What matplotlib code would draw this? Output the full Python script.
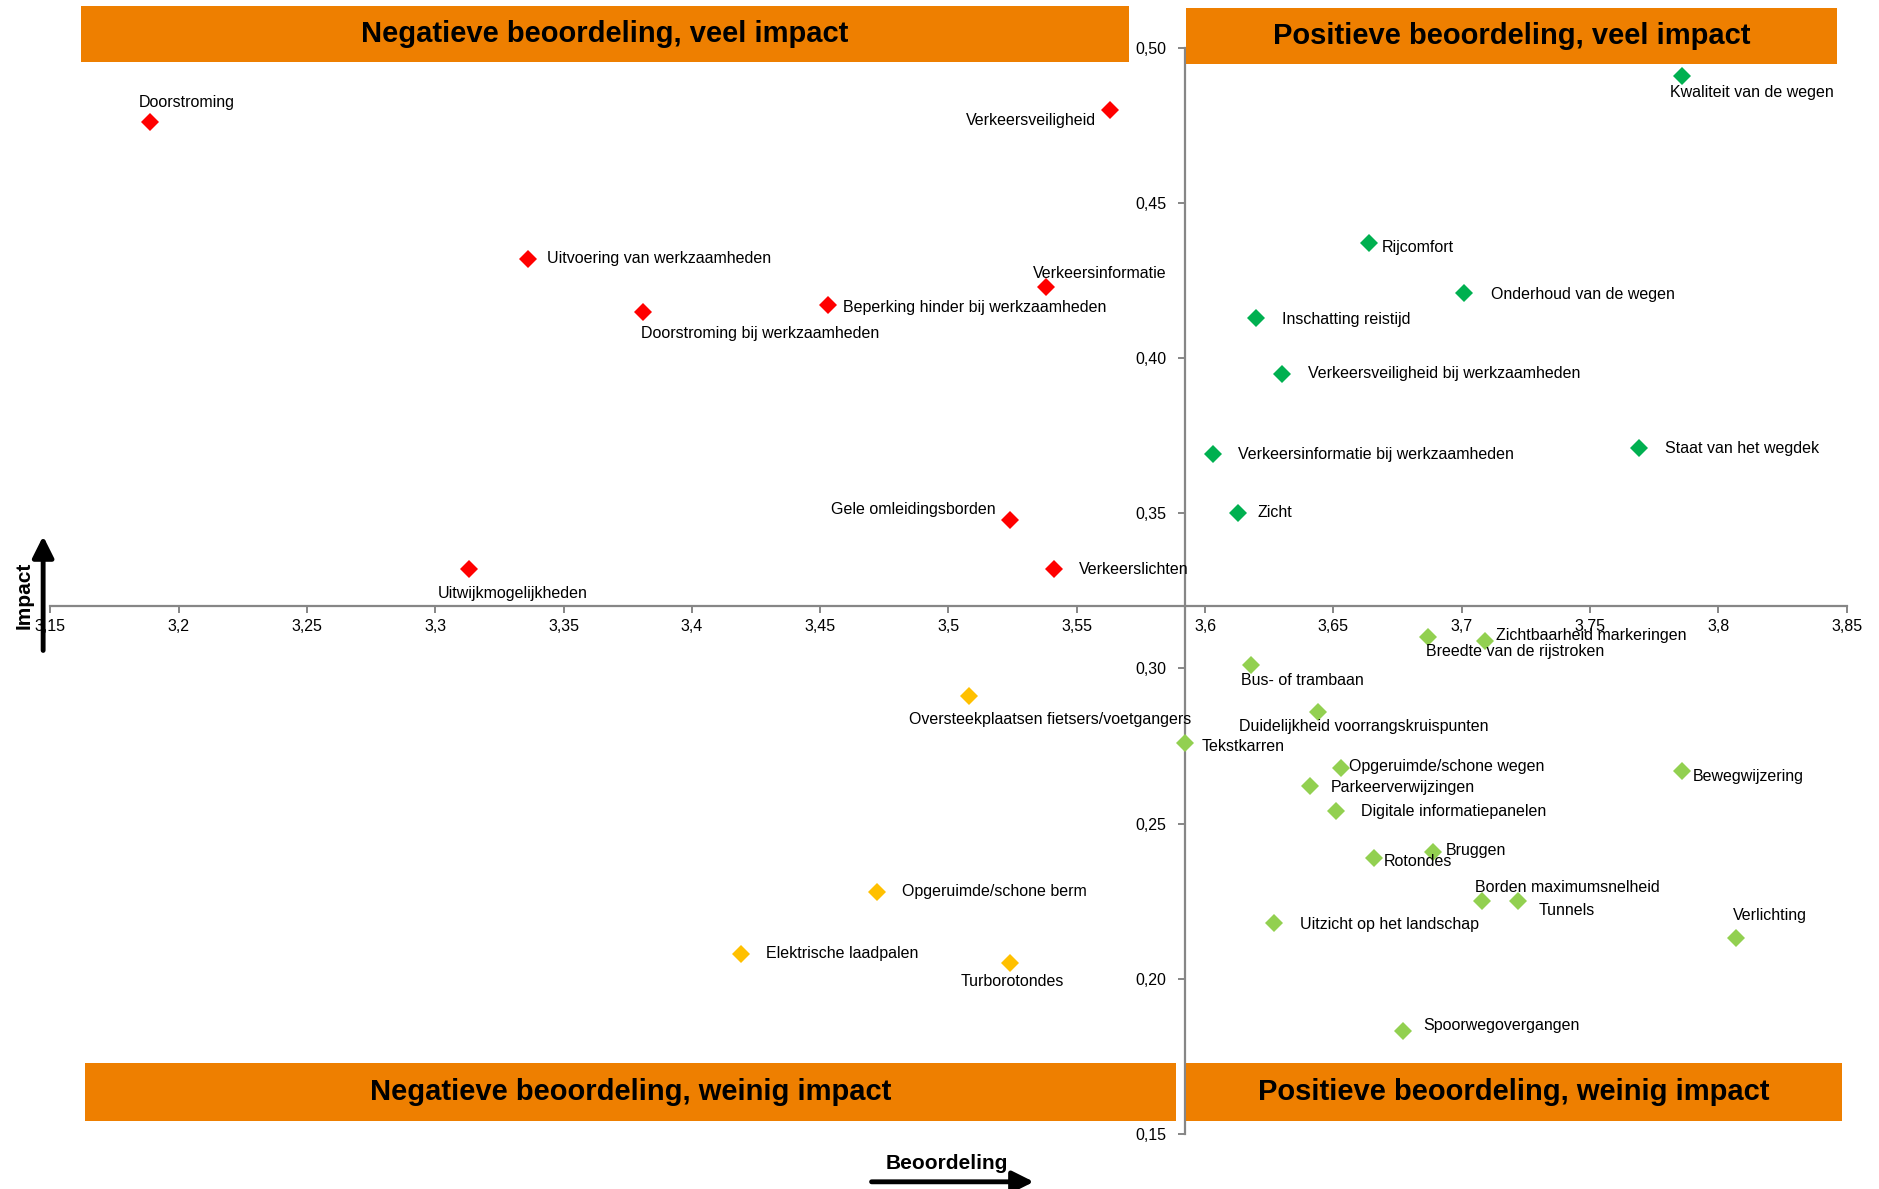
import matplotlib
matplotlib.use("Agg")
import matplotlib.pyplot as plt
from matplotlib.patches import Rectangle, FancyArrowPatch
from matplotlib.ticker import FuncFormatter

# ---- data: beoordeling (x) vs impact (y) ----
red_names = ["Doorstroming", "Verkeersveiligheid", "Uitvoering van werkzaamheden",
             "Verkeersinformatie", "Beperking hinder bij werkzaamheden",
             "Doorstroming bij werkzaamheden", "Gele omleidingsborden",
             "Uitwijkmogelijkheden", "Verkeerslichten"]
red_x = [3.189, 3.563, 3.336, 3.538, 3.453, 3.381, 3.524, 3.313, 3.541]
red_y = [0.476, 0.480, 0.432, 0.423, 0.417, 0.415, 0.348, 0.332, 0.332]

yellow_names = ["Oversteekplaatsen fietsers/voetgangers", "Opgeruimde/schone berm",
                "Elektrische laadpalen", "Turborotondes"]
yellow_x = [3.508, 3.472, 3.419, 3.524]
yellow_y = [0.291, 0.228, 0.208, 0.205]

dgreen_names = ["Kwaliteit van de wegen", "Rijcomfort", "Onderhoud van de wegen",
                "Inschatting reistijd", "Verkeersveiligheid bij werkzaamheden",
                "Staat van het wegdek", "Verkeersinformatie bij werkzaamheden", "Zicht"]
dgreen_x = [3.786, 3.664, 3.701, 3.620, 3.630, 3.769, 3.603, 3.613]
dgreen_y = [0.491, 0.437, 0.421, 0.413, 0.395, 0.371, 0.369, 0.350]

lgreen_names = ["Zichtbaarheid markeringen", "Breedte van de rijstroken", "Bus- of trambaan",
                "Duidelijkheid voorrangskruispunten", "Tekstkarren",
                "Opgeruimde/schone wegen", "Bewegwijzering", "Parkeerverwijzingen",
                "Digitale informatiepanelen", "Bruggen", "Rotondes",
                "Borden maximumsnelheid", "Tunnels", "Uitzicht op het landschap",
                "Verlichting", "Spoorwegovergangen"]
lgreen_x = [3.709, 3.687, 3.618, 3.644, 3.592, 3.653, 3.786, 3.641,
            3.651, 3.689, 3.666, 3.708, 3.722, 3.627, 3.807, 3.677]
lgreen_y = [0.309, 0.310, 0.301, 0.286, 0.276, 0.268, 0.267, 0.262,
            0.254, 0.241, 0.239, 0.225, 0.225, 0.218, 0.213, 0.183]

x_ticks = [3.15, 3.2, 3.25, 3.3, 3.35, 3.4, 3.45, 3.5, 3.55, 3.6, 3.65, 3.7, 3.75, 3.8, 3.85]
y_ticks = [0.15, 0.20, 0.25, 0.30, 0.35, 0.40, 0.45, 0.50]
x_cross = 3.592   # where the impact axis crosses
y_cross = 0.32    # where the beoordeling axis crosses

quadrant_titles = ["Negatieve beoordeling, veel impact", "Positieve beoordeling, veel impact",
                   "Negatieve beoordeling, weinig impact", "Positieve beoordeling, weinig impact"]

# ---- layout (label offsets in reference pixels: dx, dy(up), ha) ----
label_pos = {
    "Doorstroming": (-10, 17, "left"),
    "Verkeersveiligheid": (-12, -9, "right"),
    "Uitvoering van werkzaamheden": (16, 0, "left"),
    "Verkeersinformatie": (-11, 11, "left"),
    "Beperking hinder bij werkzaamheden": (13, -2, "left"),
    "Doorstroming bij werkzaamheden": (-2, -18, "left"),
    "Gele omleidingsborden": (-12, 8, "right"),
    "Uitwijkmogelijkheden": (-26, -20, "left"),
    "Verkeerslichten": (21, 0, "left"),
    "Oversteekplaatsen fietsers/voetgangers": (-50, -19, "left"),
    "Opgeruimde/schone berm": (21, 0, "left"),
    "Elektrische laadpalen": (21, 0, "left"),
    "Turborotondes": (-41, -15, "left"),
    "Kwaliteit van de wegen": (-10, -14, "left"),
    "Rijcomfort": (10, -3, "left"),
    "Onderhoud van de wegen": (22, -1, "left"),
    "Inschatting reistijd": (21, -1, "left"),
    "Verkeersveiligheid bij werkzaamheden": (22, 0, "left"),
    "Staat van het wegdek": (22, 0, "left"),
    "Verkeersinformatie bij werkzaamheden": (21, 0, "left"),
    "Zicht": (16, 1, "left"),
    "Zichtbaarheid markeringen": (9, 4, "left"),
    "Breedte van de rijstroken": (-2, -12, "left"),
    "Bus- of trambaan": (-9, -13, "left"),
    "Duidelijkheid voorrangskruispunten": (-66, -12, "left"),
    "Tekstkarren": (14, -3, "left"),
    "Opgeruimde/schone wegen": (7, 1, "left"),
    "Bewegwijzering": (9, -5, "left"),
    "Parkeerverwijzingen": (17, -1, "left"),
    "Digitale informatiepanelen": (21, 0, "left"),
    "Bruggen": (10, 1, "left"),
    "Rotondes": (8, -3, "left"),
    "Borden maximumsnelheid": (-6, 11, "left"),
    "Tunnels": (17, -8, "left"),
    "Uitzicht op het landschap": (21, -1, "left"),
    "Verlichting": (-3, 19, "left"),
    "Spoorwegovergangen": (17, 5, "left"),
}

W, H = 1568.0, 992.0          # reference frame used for layout
PT = 1879.0 / W * 0.72        # reference px -> points
NARROW = ["Liberation Sans Narrow", "Liberation Sans", "DejaVu Sans"]
BOLD = ["Liberation Sans", "DejaVu Sans"]
ORANGE = "#EE7F00"
AXIS_GREY = "#868686"

fig = plt.figure(figsize=(18.79, 11.89), dpi=100)
ax = fig.add_axes([42 / W, 1 - 946 / H, (1541 - 42) / W, (946 - 40) / H])
ax.set_xlim(3.15, 3.85)
ax.set_ylim(0.15, 0.50)

# axes crossing in the middle
for s in ["top", "right"]:
    ax.spines[s].set_visible(False)
ax.spines["left"].set_position(("data", x_cross))
ax.spines["bottom"].set_position(("data", y_cross))
for s in ["left", "bottom"]:
    ax.spines[s].set_color(AXIS_GREY)
    ax.spines[s].set_linewidth(1.6)
ax.set_xticks(x_ticks)
ax.set_yticks(y_ticks)
ax.xaxis.set_major_formatter(FuncFormatter(lambda v, p: f"{v:g}".replace(".", ",")))
ax.yaxis.set_major_formatter(FuncFormatter(lambda v, p: f"{v:.2f}".replace(".", ",")))
ax.tick_params(colors=AXIS_GREY, length=5, width=1.4, labelcolor="black", labelsize=11.5)
ax.tick_params(axis="x", pad=4)
ax.tick_params(axis="y", pad=8)
for lbl in ax.get_xticklabels() + ax.get_yticklabels():
    lbl.set_family(NARROW)
ax.patch.set_visible(False)

groups = [
    (red_names, red_x, red_y, "#FF0000"),
    (yellow_names, yellow_x, yellow_y, "#FFC000"),
    (dgreen_names, dgreen_x, dgreen_y, "#00B050"),
    (lgreen_names, lgreen_x, lgreen_y, "#92D050"),
]
for names, xs, ys, col in groups:
    ax.plot(xs, ys, linestyle="none", marker="D", markersize=9, color=col,
            markeredgewidth=0, zorder=3, clip_on=False)
    for n, x, y in zip(names, xs, ys):
        dx, dy, ha = label_pos[n]
        ax.annotate(n, (x, y), xytext=(dx * PT, dy * PT), textcoords="offset points",
                    ha=ha, va="center", fontsize=11.5, family=NARROW, zorder=4)

# orange quadrant banners (reference pixel boxes)
boxes = [(68, 5, 942, 52), (990, 7, 1533, 53), (71, 887, 981, 935), (990, 887, 1537, 935)]
for (x0, y0, x1, y1), title in zip(boxes, quadrant_titles):
    fig.patches.append(Rectangle((x0 / W, 1 - y1 / H), (x1 - x0) / W, (y1 - y0) / H,
                                 transform=fig.transFigure, facecolor=ORANGE,
                                 edgecolor="none", zorder=5))
    fig.text((x0 + x1) / 2 / W, 1 - (y0 + y1) / 2 / H, title, ha="center", va="center",
             fontsize=21, fontweight="bold", family=NARROW, zorder=6)

# axis names with arrows
fig.text(20 / W, 1 - 497 / H, "Impact", rotation=90, ha="center", va="center",
         fontsize=15, fontweight="bold", family=BOLD)
fig.patches.append(FancyArrowPatch((36 / W, 1 - 545 / H), (36 / W, 1 - 445 / H),
                                   transform=fig.transFigure, arrowstyle="-|>,head_length=8,head_width=4",
                                   mutation_scale=1.6, linewidth=3.5, color="black"))
fig.text(790 / W, 1 - 971 / H, "Beoordeling", ha="center", va="center",
         fontsize=15, fontweight="bold", family=BOLD)
fig.patches.append(FancyArrowPatch((725 / W, 1 - 986 / H), (865 / W, 1 - 986 / H),
                                   transform=fig.transFigure, arrowstyle="-|>,head_length=8,head_width=4",
                                   mutation_scale=1.6, linewidth=3.5, color="black"))

fig.savefig("out.png", dpi=100, facecolor="white")
